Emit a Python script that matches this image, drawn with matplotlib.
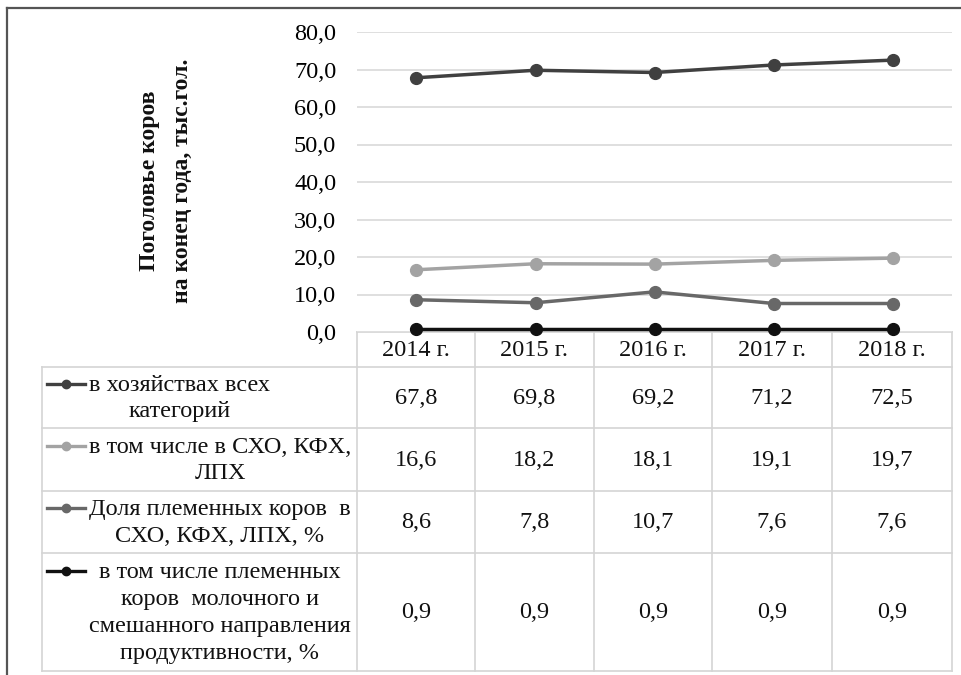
import matplotlib.pyplot as plt
from matplotlib.lines import Line2D

W, H = 962, 675

years = ["2014 г.", "2015 г.", "2016 г.", "2017 г.", "2018 г."]
all_farms = [67.8, 69.8, 69.2, 71.2, 72.5]
agri_orgs = [16.6, 18.2, 18.1, 19.1, 19.7]
pedigree_share = [8.6, 7.8, 10.7, 7.6, 7.6]
pedigree_dairy = [0.9, 0.9, 0.9, 0.9, 0.9]

series_labels = [
    "в хозяйствах всех\nкатегорий",
    "в том числе в СХО, КФХ,\nЛПХ",
    "Доля племенных коров  в\nСХО, КФХ, ЛПХ, %",
    "в том числе племенных\nкоров  молочного и\nсмешанного направления\nпродуктивности, %",
]
series_values = [all_farms, agri_orgs, pedigree_share, pedigree_dairy]
colors = ["#404040", "#a3a3a3", "#686868", "#111111"]
y_ticks = [0, 10, 20, 30, 40, 50, 60, 70, 80]

plt.rcParams["font.family"] = ["Liberation Serif", "DejaVu Serif"]
FS = 17.5

fig = plt.figure(figsize=(W / 100, H / 100), dpi=100)

# pixel layout
px_left, px_right = 357, 952
px_top, px_bottom = 32, 332
ax = fig.add_axes([px_left / W, 1 - px_bottom / H,
                   (px_right - px_left) / W, (px_bottom - px_top) / H])
ax.set_xlim(-0.5, len(years) - 0.5)
ax.set_ylim(0, 80)
for s in ax.spines.values():
    s.set_visible(False)
ax.set_xticks([])
ax.set_yticks(y_ticks)
ax.set_yticklabels([f"{v:.1f}".replace(".", ",") for v in y_ticks], fontsize=FS)
ax.tick_params(axis="y", length=0, pad=15)
ax.yaxis.grid(True, color="#d9d9d9", linewidth=1.2)
ax.set_axisbelow(True)
for vals, c in zip(series_values, colors):
    ax.plot(range(len(years)), vals, color=c, linewidth=2.5,
            marker="o", markersize=8.5, clip_on=False, zorder=3)

# overlay in pixel coordinates for the data table and the frame
ov = fig.add_axes([0, 0, 1, 1], zorder=-1)
ov.set_xlim(0, W)
ov.set_ylim(H, 0)
ov.axis("off")

# outer frame (top and left visible)
ov.add_line(Line2D([7, 7], [8, H], color="#555555", linewidth=1.6))
ov.add_line(Line2D([7, W], [8, 8], color="#555555", linewidth=1.6))

tbl_left = 42
col_edges = [357, 475, 594, 712, 832, 952]
row_edges = [332, 367, 428, 491, 553, 671]
grid_c = "#d4d4d4"

for x in col_edges:
    ov.add_line(Line2D([x, x], [row_edges[0], row_edges[-1]], color=grid_c, linewidth=1.2))
ov.add_line(Line2D([tbl_left, tbl_left], [row_edges[1], row_edges[-1]], color=grid_c, linewidth=1.2))
ov.add_line(Line2D([col_edges[0], col_edges[-1]], [row_edges[0], row_edges[0]], color=grid_c, linewidth=1.2))
for y in row_edges[1:]:
    ov.add_line(Line2D([tbl_left, col_edges[-1]], [y, y], color=grid_c, linewidth=1.2))

# header
for i, yr in enumerate(years):
    cx = (col_edges[i] + col_edges[i + 1]) / 2
    ov.text(cx, (row_edges[0] + row_edges[1]) / 2 + 1, yr, fontsize=FS,
            ha="center", va="center", color="#111111")

# rows
label_cx = [180, 220, 220, 220]
key_y = [384, 446, 508, 571]
for r, (lab, vals, c) in enumerate(zip(series_labels, series_values, colors)):
    y0, y1 = row_edges[r + 1], row_edges[r + 2]
    cy = (y0 + y1) / 2
    ov.text(label_cx[r], cy + 1, lab, fontsize=FS, ha="center", va="center",
            multialignment="center", linespacing=1.36, color="#111111")
    ov.add_line(Line2D([47, 85], [key_y[r], key_y[r]], color=c, linewidth=2.4))
    ov.add_line(Line2D([66], [key_y[r]], color=c, marker="o", markersize=6))
    for i, v in enumerate(vals):
        cx = (col_edges[i] + col_edges[i + 1]) / 2
        ov.text(cx, cy + 1, f"{v:.1f}".replace(".", ","), fontsize=FS,
                ha="center", va="center", color="#111111")

# axis title
ov.text(150, 181, "Поголовье коров", fontsize=17, fontweight="bold",
        rotation=90, ha="center", va="center", color="#111111")
ov.text(182, 181, "на конец года, тыс.гол.", fontsize=17, fontweight="bold",
        rotation=90, ha="center", va="center", color="#111111")

fig.savefig("out.png", dpi=100, facecolor="white")
